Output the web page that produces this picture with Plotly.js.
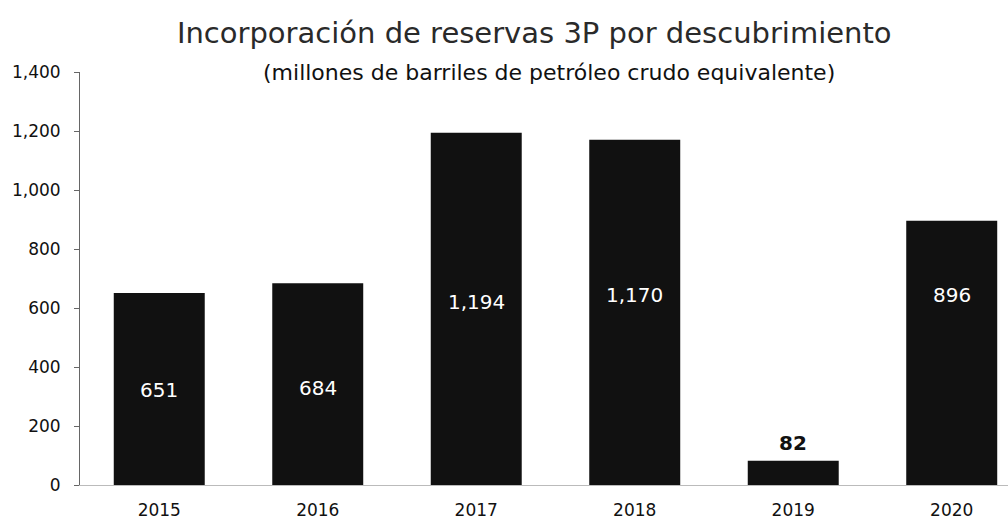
<!DOCTYPE html>
<html>
<head>
<meta charset="utf-8">
<script src="https://cdn.plot.ly/plotly-3.0.1.min.js"></script>
<style>html,body{margin:0;padding:0;background:#fff;}#chart{width:1008px;height:523px;}</style>
</head>
<body>
<div id="chart"></div>
<script>
// Data
const years = ['2015', '2016', '2017', '2018', '2019', '2020'];
const reserves = [651, 684, 1194, 1170, 82, 896];
const valueLabels = ['651', '684', '1,194', '1,170', '82', '896'];
const yTicks = [0, 200, 400, 600, 800, 1000, 1200, 1400];
const yTickText = ['0', '200', '400', '600', '800', '1,000', '1,200', '1,400'];

// Label layout (data-unit heights where each value label sits)
const labelAt = [322, 329, 620, 644, 142, 644];
const labelInside = [true, true, true, true, false, true];

const FONT = 'DejaVu Sans, Open Sans, sans-serif';

const trace = {
  type: 'bar',
  x: years,
  y: reserves,
  marker: {color: '#111111', line: {width: 0}},
  hoverinfo: 'none'
};

const annotations = years.map((yr, i) => ({
  x: i, y: labelAt[i], xref: 'x', yref: 'y',
  text: labelInside[i] ? valueLabels[i] : '<b>' + valueLabels[i] + '</b>',
  showarrow: false,
  font: {family: FONT, size: 20, color: labelInside[i] ? '#ffffff' : '#111111'},
  xanchor: 'center', yanchor: 'middle'
}));

annotations.push({
  xref: 'paper', yref: 'paper', x: 0.505, y: 1.0,
  text: '(millones de barriles de petróleo crudo equivalente)',
  showarrow: false,
  font: {family: FONT, size: 22, color: '#111'},
  xanchor: 'center', yanchor: 'middle'
});

const layout = {
  width: 1008, height: 523,
  margin: {l: 80, r: 0, t: 72, b: 38},
  paper_bgcolor: '#ffffff',
  plot_bgcolor: '#ffffff',
  title: {
    text: 'Incorporación de reservas 3P por descubrimiento',
    x: 0.53, xanchor: 'center', xref: 'container',
    y: 0.937, yanchor: 'middle', yref: 'container',
    font: {family: FONT, size: 29, color: '#2a2a2a', weight: 500}
  },
  showlegend: false,
  bargap: 0.426,
  xaxis: {
    type: 'category',
    range: [-0.5, 5.355],
    showgrid: false, zeroline: false,
    showline: true, linecolor: '#bbbbbb', linewidth: 1,
    ticks: '', ticklabelstandoff: 10,
    tickfont: {family: FONT, size: 17, color: '#111'},
    fixedrange: true
  },
  yaxis: {
    range: [0, 1400],
    tickvals: yTicks, ticktext: yTickText,
    showgrid: false, zeroline: false,
    showline: true, linecolor: '#666666', linewidth: 1,
    ticks: 'outside', ticklen: 5, tickcolor: '#666666',
    ticklabelstandoff: 10,
    tickfont: {family: FONT, size: 17, color: '#111'},
    fixedrange: true
  },
  annotations: annotations
};

Plotly.newPlot('chart', [trace], layout, {displayModeBar: false, staticPlot: true});
</script>
</body>
</html>
